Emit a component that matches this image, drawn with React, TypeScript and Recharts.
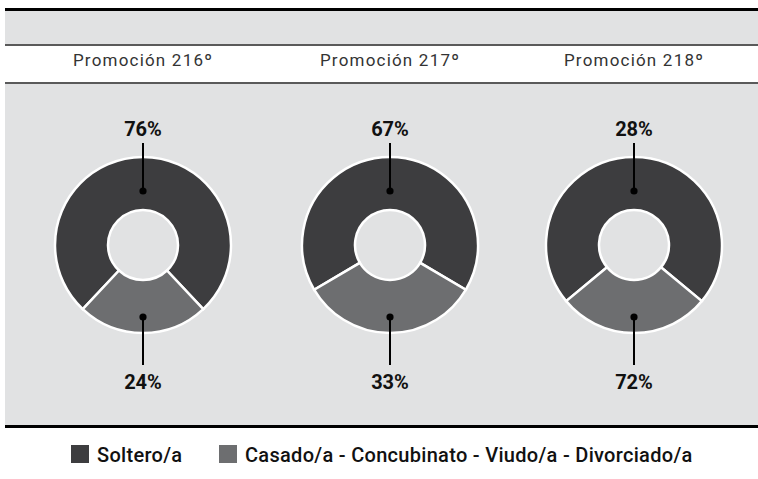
import { PieChart, Pie, Cell } from "recharts";

// promotions shown left to right
const promotions = ["Promoción 216º", "Promoción 217º", "Promoción 218º"];
const solteroValues = [76, 67, 72];
const casadoValues = [24, 33, 28];
// printed labels (the third chart's printed values are as in the original)
const topLabels = ["76%", "67%", "28%"];
const bottomLabels = ["24%", "33%", "72%"];

const seriesNames = ["Soltero/a", "Casado/a - Concubinato - Viudo/a - Divorciado/a"];
const seriesColors = ["#3d3d3f", "#6d6e70"];

const W = 758;
const H = 479;
const CY = 245;
const pieX = [143, 390, 634];
const BG = "#e1e2e3";
const RAD = Math.PI / 180;

const dotR = [54, 72];
const lineR = [102, 120];
const textR = [109, 144];

const makeLabel = (pi: number) => (props: any) => {
  const { cx, cy, midAngle, index } = props;
  const dx = Math.cos(-midAngle * RAD);
  const dy = Math.sin(-midAngle * RAD);
  const p = (r: number) => [cx + r * dx, cy + r * dy];
  const [x1, y1] = p(dotR[index]);
  const [x2, y2] = p(lineR[index]);
  const [tx, ty] = p(textR[index]);
  const txt = index === 0 ? topLabels[pi] : bottomLabels[pi];
  return (
    <g key={`lbl-${pi}-${index}`}>
      <line x1={x1} y1={y1} x2={x2} y2={y2} stroke="#000" strokeWidth={2} />
      <circle cx={x1} cy={y1} r={3.6} fill="#000" />
      <text
        x={tx}
        y={ty}
        textAnchor="middle"
        fontFamily="Roboto, sans-serif"
        fontWeight={700}
        fontSize={20}
        fill="#111"
      >
        {txt}
      </text>
    </g>
  );
};

export default function App() {
  return (
    <div style={{ position: "absolute", left: 0, top: 0, width: W, height: H, background: "#fff", overflow: "hidden" }}>
      {/* frame bands */}
      <div style={{ position: "absolute", left: 5, right: 0, top: 8, height: 3, background: "#000" }} />
      <div style={{ position: "absolute", left: 5, right: 0, top: 11, height: 33, background: BG }} />
      <div style={{ position: "absolute", left: 5, right: 0, top: 44, height: 1.5, background: "#5a5a5a" }} />
      <div style={{ position: "absolute", left: 5, right: 0, top: 82, height: 1.5, background: "#5a5a5a" }} />
      <div style={{ position: "absolute", left: 5, right: 0, top: 83.5, height: 341.5, background: BG }} />
      <div style={{ position: "absolute", left: 5, right: 0, top: 425, height: 2.5, background: "#000" }} />

      {promotions.map((p, i) => (
        <div
          key={p}
          style={{
            position: "absolute",
            left: pieX[i] - 100,
            width: 200,
            top: 52,
            textAlign: "center",
            fontFamily: "Roboto, sans-serif",
            fontSize: 17,
            lineHeight: "17px",
            letterSpacing: 1.2,
            color: "#333",
          }}
        >
          {p}
        </div>
      ))}

      <div style={{ position: "absolute", left: 0, top: 0 }}>
        <PieChart width={W} height={H} margin={{ top: 0, right: 0, bottom: 0, left: 0 }}>
          {promotions.map((p, i) => {
            const data = [
              { name: seriesNames[0], value: solteroValues[i] },
              { name: seriesNames[1], value: casadoValues[i] },
            ];
            const total = solteroValues[i] + casadoValues[i];
            const start = 90 + (solteroValues[i] / total) * 180;
            return (
              <Pie
                key={p}
                data={data}
                dataKey="value"
                nameKey="name"
                cx={pieX[i]}
                cy={CY}
                innerRadius={35}
                outerRadius={88}
                startAngle={start}
                endAngle={start - 360}
                stroke="#fff"
                strokeWidth={2.5}
                label={makeLabel(i)}
                labelLine={false}
                isAnimationActive={false}
              >
                {data.map((d, j) => (
                  <Cell key={d.name} fill={seriesColors[j]} />
                ))}
              </Pie>
            );
          })}
        </PieChart>
      </div>

      {seriesNames.map((n, i) => (
        <div
          key={n}
          style={{
            position: "absolute",
            left: i === 0 ? 71 : 219,
            top: 445,
            display: "flex",
            alignItems: "flex-start",
            fontFamily: "Roboto, sans-serif",
            fontWeight: 500,
            fontSize: 20,
            lineHeight: "20px",
            letterSpacing: 0.3,
            color: "#111",
            whiteSpace: "nowrap",
          }}
        >
          <span style={{ width: 18, height: 18, background: seriesColors[i], marginRight: 8 }} />
          <span>{n}</span>
        </div>
      ))}
    </div>
  );
}
